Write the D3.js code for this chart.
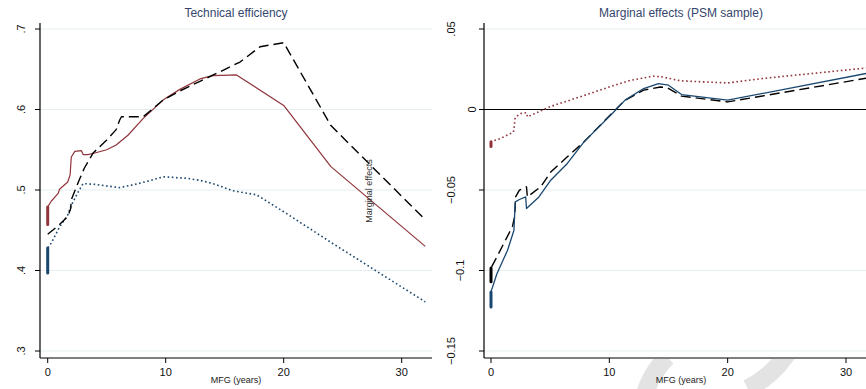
<!DOCTYPE html>
<html>
<head>
<meta charset="utf-8">
<script src="https://cdn.jsdelivr.net/npm/d3@7"></script>
<style>
  body { margin: 0; background: #fff; }
  svg { display: block; font-family: "Liberation Sans", Arial, sans-serif; }
</style>
</head>
<body>
<div id="chart"></div>
<script>
// ---- data: [MFG years, value] ----
const teSolid = [[0,0.457],[0,0.479],[0.3,0.486],[0.9,0.496],[1.0,0.501],[1.7,0.510],[1.9,0.519],[2.0,0.541],
  [2.3,0.548],[2.85,0.549],[3.0,0.544],[3.4,0.544],[4.0,0.546],[5.0,0.550],[5.8,0.556],[6.8,0.568],
  [8.1,0.589],[9.8,0.612],[11.2,0.625],[12.9,0.638],[14.0,0.642],[16.0,0.643],[20,0.605],[24,0.529],[32,0.430]];
const teDash = [[0,0.445],[1.0,0.457],[1.7,0.467],[1.95,0.477],[2.0,0.488],[2.6,0.510],[3.1,0.527],[3.85,0.546],
  [5.0,0.562],[5.8,0.575],[6.1,0.587],[6.25,0.591],[8.1,0.591],[9.8,0.612],[11.2,0.623],[12.9,0.635],
  [14.9,0.649],[16.3,0.659],[18,0.678],[20,0.683],[24,0.580],[32,0.463]];
const teDot = [[0,0.397],[0,0.428],[0.3,0.434],[1.0,0.454],[1.7,0.469],[2.0,0.481],[2.6,0.498],[3.0,0.508],
  [4.0,0.507],[5.0,0.505],[6.1,0.503],[7.4,0.507],[8.5,0.511],[9.8,0.5165],[11.8,0.5145],[12.9,0.512],
  [14,0.508],[15.7,0.499],[17.7,0.494],[20,0.473],[24,0.435],[32,0.361]];

const meDot = [[0,-0.023],[0,-0.020],[0.8,-0.018],[1.9,-0.014],[2.05,-0.005],[2.5,-0.0025],[3.0,-0.002],
  [3.08,-0.0046],[5.0,0.0018],[7.5,0.0078],[10,0.014],[11.75,0.018],[13.7,0.0207],[14.5,0.0202],
  [16,0.0178],[20,0.0165],[23,0.0193],[32,0.026]];
const meSolid = [[0,-0.1226],[0,-0.1133],[0.5,-0.102],[1.4,-0.0874],[1.94,-0.075],[1.98,-0.068],[2.05,-0.0574],
  [2.4,-0.0559],[2.93,-0.0543],[3.0,-0.0615],[4.05,-0.0543],[5.05,-0.0439],[6.45,-0.0335],[7.86,-0.0201],
  [10.25,-0.0025],[11.33,0.0058],[12.9,0.013],[14.15,0.0161],[15,0.0151],[16.1,0.0093],[20,0.0058],[32,0.0228]];
const meDash = [[0,-0.107],[0,-0.0985],[0.5,-0.0915],[1.8,-0.0729],[2.0,-0.0667],[2.08,-0.0543],[2.4,-0.0501],
  [3.0,-0.048],[3.07,-0.0543],[4.2,-0.048],[5.05,-0.0388],[6.45,-0.0294],[7.86,-0.0201],[10.25,-0.0021],
  [11.33,0.0058],[12.9,0.012],[14.3,0.014],[14.9,0.0135],[16.1,0.0083],[20,0.0047],[32,0.0198]];

const xTicks = [0, 10, 20, 30];
const teTicks = [0.3, 0.4, 0.5, 0.6, 0.7];
const meTicks = [-0.15, -0.1, -0.05, 0, 0.05];

const navy = "#1a476f", maroon = "#90353b";

const width = 866, height = 389;
const svg = d3.select("#chart").append("svg")
    .attr("width", width)
    .attr("height", height);

// faint watermark arcs along the bottom edge
const wm = svg.append("g");
svg.append("clipPath").attr("id", "wmclip")
    .append("rect").attr("x", 560).attr("y", 359).attr("width", 306).attr("height", 40);
wm.attr("clip-path", "url(#wmclip)");
wm.append("path")
    .attr("d", d3.arc()({ innerRadius: 80, outerRadius: 98, startAngle: -Math.PI, endAngle: -Math.PI / 4 }))
    .attr("transform", "translate(730,420)")
    .attr("fill", "#e3e3e3");
wm.append("path")
    .attr("d", d3.arc()({ innerRadius: 96, outerRadius: 114, startAngle: Math.PI / 4, endAngle: Math.PI * 0.85 }))
    .attr("transform", "translate(700,295)")
    .attr("fill", "#e3e3e3");

function fmt(v) {
    // Stata style: drop leading zero
    return d3.format("~g")(+v.toFixed(2)).replace(/^(-?)0\./, "$1.");
}

function drawPanel(cfg) {
    const x = d3.scaleLinear().domain([0, 30]).range(cfg.xRange);
    const y = d3.scaleLinear().domain(cfg.yDomain).range([351, 29]);
    const g = svg.append("g");
    const plotRight = cfg.plotRight;

    // gridlines
    g.selectAll(".grid").data(cfg.yTicks).join("line")
        .attr("x1", cfg.axisX).attr("x2", plotRight)
        .attr("y1", d => y(d)).attr("y2", d => y(d))
        .attr("stroke", "#e4edef").attr("stroke-width", 1);

    if (cfg.zeroLine) {
        g.append("line")
            .attr("x1", cfg.axisX).attr("x2", plotRight)
            .attr("y1", y(0)).attr("y2", y(0))
            .attr("stroke", "#000").attr("stroke-width", 1.1);
    }

    // y axis
    g.append("line").attr("x1", cfg.axisX).attr("x2", cfg.axisX).attr("y1", 23).attr("y2", 358)
        .attr("stroke", "#000").attr("stroke-width", 1.2);
    g.selectAll(".ytick").data(cfg.yTicks).join("line")
        .attr("x1", cfg.axisX - 5).attr("x2", cfg.axisX)
        .attr("y1", d => y(d)).attr("y2", d => y(d))
        .attr("stroke", "#000").attr("stroke-width", 1);
    g.selectAll(".ylab").data(cfg.yTicks).join("text")
        .attr("transform", d => `translate(${cfg.labelX(d)},${y(d)}) rotate(-90)`)
        .attr("text-anchor", "middle")
        .attr("font-size", 11)
        .attr("fill", "#111")
        .text(fmt);

    // x axis
    g.append("line").attr("x1", cfg.axisX).attr("x2", plotRight).attr("y1", 358).attr("y2", 358)
        .attr("stroke", "#000").attr("stroke-width", 1.2);
    g.selectAll(".xtick").data(xTicks).join("line")
        .attr("x1", d => x(d)).attr("x2", d => x(d))
        .attr("y1", 358).attr("y2", 363)
        .attr("stroke", "#000").attr("stroke-width", 1);
    g.selectAll(".xlab").data(xTicks).join("text")
        .attr("x", d => x(d)).attr("y", 375.5)
        .attr("text-anchor", "middle")
        .attr("font-size", 11)
        .attr("fill", "#111")
        .text(d => d);

    g.append("text")
        .attr("x", cfg.titleX).attr("y", 383)
        .attr("text-anchor", "middle")
        .attr("font-size", 9)
        .attr("fill", "#222")
        .text("MFG (years)");

    g.append("text")
        .attr("x", cfg.titleX).attr("y", 17)
        .attr("text-anchor", "middle")
        .attr("font-size", 12)
        .attr("fill", "#34466e")
        .text(cfg.title);

    const line = d3.line().x(d => x(d[0])).y(d => y(d[1]));
    cfg.series.forEach(s => {
        g.append("path")
            .datum(s.data)
            .attr("d", line)
            .attr("fill", "none")
            .attr("stroke", s.color)
            .attr("stroke-width", s.w || 1.3)
            .attr("stroke-dasharray", s.dash || null)
            .attr("stroke-linejoin", "round");
        // the stacked points at MFG = 0 show up as a heavy bar
        if (s.data[0][0] === s.data[1][0]) {
            g.append("path")
                .datum(s.data.slice(0, 2))
                .attr("d", line)
                .attr("stroke", s.color)
                .attr("stroke-width", 3)
                .attr("stroke-linecap", "round");
        }
    });
    return g;
}

drawPanel({
    title: "Technical efficiency",
    titleX: 236,
    xRange: [47.7, 401.7],
    yDomain: [0.3, 0.7],
    yTicks: teTicks,
    axisX: 40,
    plotRight: 432,
    labelX: () => 24.5,
    series: [
        { data: teDot, color: navy, dash: "1.6,2.6", w: 1.6 },
        { data: teSolid, color: maroon, w: 1.2 },
        { data: teDash, color: "#000", dash: "10,5", w: 1.4 }
    ]
});

drawPanel({
    title: "Marginal effects (PSM sample)",
    titleX: 681,
    xRange: [491, 846],
    yDomain: [-0.15, 0.05],
    yTicks: meTicks,
    axisX: 484,
    plotRight: 866,
    zeroLine: true,
    labelX: d => d === 0 ? 475.5 : d === -0.1 ? 463.5 : 455,
    series: [
        { data: meDot, color: maroon, dash: "1.6,2.6", w: 1.6 },
        { data: meDash, color: "#000", dash: "10,5", w: 1.4 },
        { data: meSolid, color: navy, w: 1.3 }
    ]
});

// y title of the right panel lands inside the left plot in the original
svg.append("text")
    .attr("transform", "translate(372,191) rotate(-90)")
    .attr("text-anchor", "middle")
    .attr("font-size", 9)
    .attr("fill", "#333")
    .text("Marginal effects");
</script>
</body>
</html>
